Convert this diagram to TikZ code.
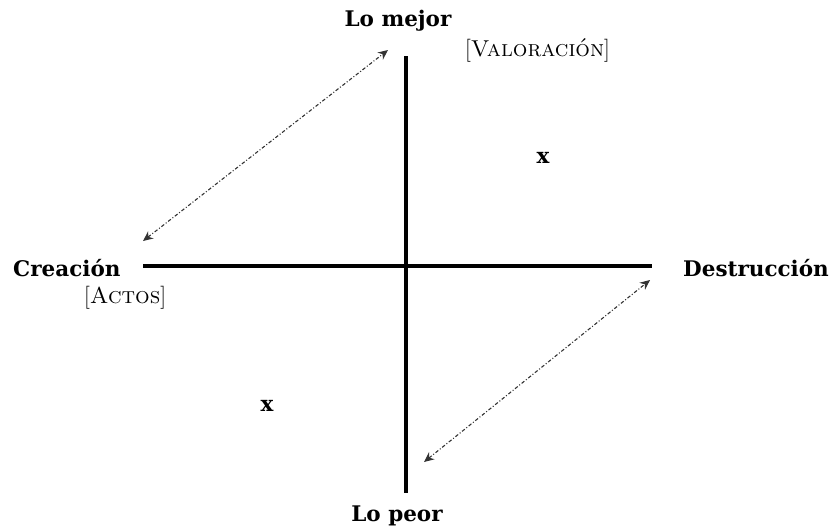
\documentclass[tikz,border=0pt]{standalone}
\usepackage{fontspec}
\usetikzlibrary{arrows.meta}
\newfontfamily\labfont[BoldFont={DejaVu Serif Bold}]{DejaVu Serif}
\tikzset{
  axis/.style={line width=3.4pt, black},
  rel/.style={line width=1.1pt, black!80, dash pattern=on 3.5pt off 2pt on 1pt off 2pt,
    {Stealth[length=10pt,width=9pt]}-{Stealth[length=10pt,width=9pt]}},
  lab/.style={font=\labfont\bfseries\fontsize{21.5}{24}\selectfont, inner sep=0pt},
  br/.style={font=\fontsize{23}{25}\selectfont, inner sep=0pt},
}
\begin{document}
\begin{tikzpicture}[x=1pt,y=-1pt]
\useasboundingbox (0,0) rectangle (834,531);
\coordinate (top) at (406,56);
\coordinate (bot) at (406,493);
\coordinate (lft) at (143,266);
\coordinate (rgt) at (652,266);
\draw[axis] (top) -- (bot);
\draw[axis] (lft) -- (rgt);
\node[lab] (mejor) at (398,21) {Lo mejor};
\node[lab] (peor) at (397,516) {Lo peor};
\node[lab, anchor=west] (crea) at (13,268) {Creación};
\node[lab, anchor=west] (dest) at (683,268) {Destrucción};
\node[br, anchor=west] (val) at (465,50) {[\textsc{Valoración}]};
\node[br, anchor=west] (act) at (84,298) {[\textsc{Actos}]};
\node[lab] (x1) at (543,158) {x};
\node[lab] (x2) at (267,406) {x};
\coordinate (a1) at (143,241);
\coordinate (a2) at (388,50);
\coordinate (b1) at (650,280);
\coordinate (b2) at (424,462);
\draw[rel] (a1) -- (a2);
\draw[rel] (b2) -- (b1);
\end{tikzpicture}
\end{document}
